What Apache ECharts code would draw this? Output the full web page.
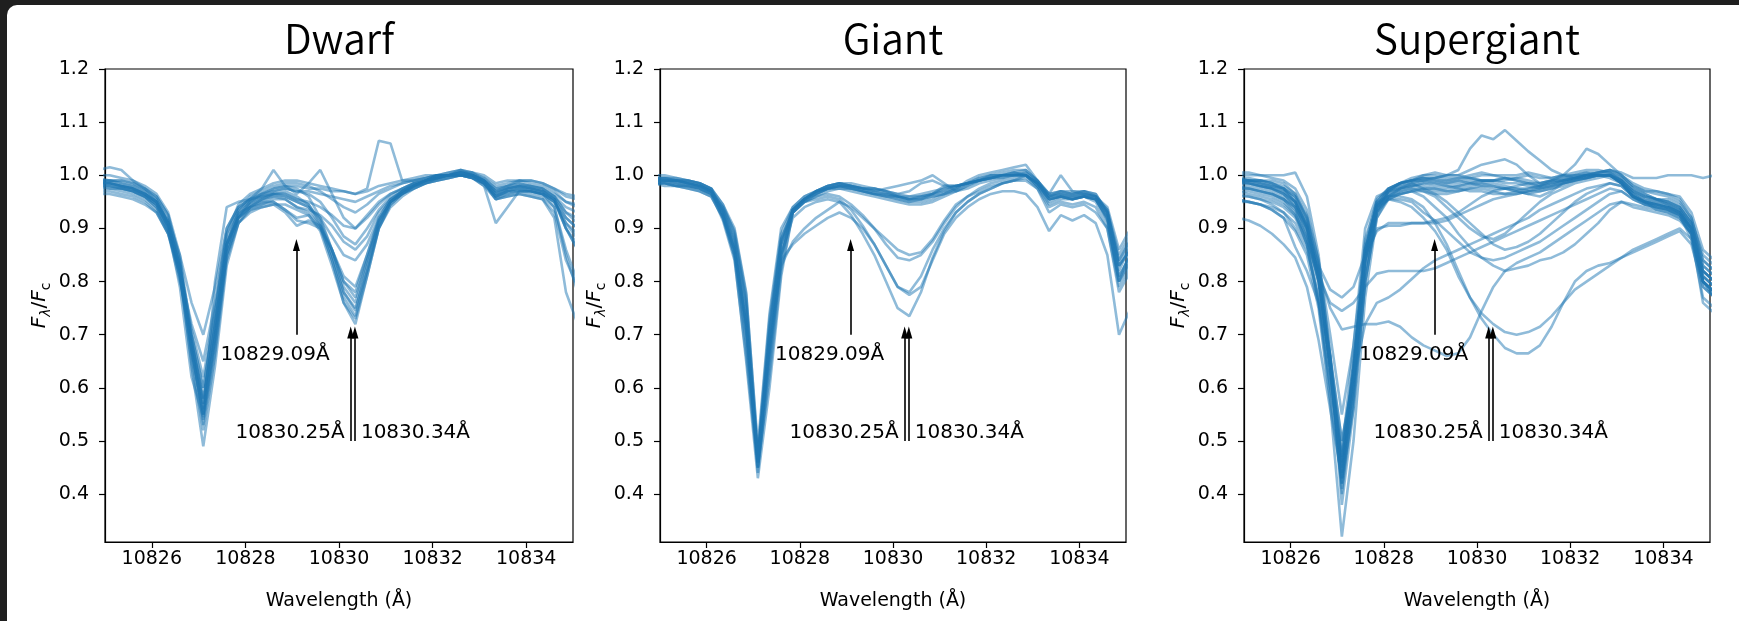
<!DOCTYPE html>
<html>
<head>
<meta charset="utf-8">
<title>He I 10830 spectra</title>
<script src="https://cdn.jsdelivr.net/npm/echarts@6/dist/echarts.min.js"></script>
<style>
  html, body { margin: 0; padding: 0; width: 1739px; height: 621px; overflow: hidden; background: #1f1f1f; }
  #card { position: absolute; left: 7px; top: 5px; width: 1760px; height: 660px; background: #fff; border-radius: 10px; }
  #main { position: absolute; left: 0; top: 0; width: 1739px; height: 621px; }
</style>
</head>
<body>
<div id="card"></div>
<div id="main"></div>
<script>
// wavelength grid (Å), shared by every spectrum
var wavelength = [
  10824.85,10825.10,10825.35,10825.60,10825.85,10826.10,10826.35,10826.60,10826.85,10827.10,
  10827.35,10827.60,10827.85,10828.10,10828.35,10828.60,10828.85,10829.10,10829.35,10829.60,
  10829.85,10830.10,10830.35,10830.60,10830.85,10831.10,10831.35,10831.60,10831.85,10832.10,
  10832.35,10832.60,10832.85,10833.10,10833.35,10833.60,10833.85,10834.10,10834.35,10834.60,
  10834.85,10835.10
];

// normalised flux F_lambda / F_c, one row per star
var dwarf = [
  [0.99,0.99,0.985,0.98,0.97,0.955,0.915,0.83,0.67,0.55,
   0.69,0.86,0.925,0.945,0.955,0.965,0.97,0.96,0.945,0.91,
   0.85,0.78,0.745,0.83,0.91,0.95,0.965,0.98,0.99,0.995,
   1.0,1.005,1.0,0.99,0.965,0.975,0.98,0.975,0.97,0.955,
   0.9,0.86],
  [0.985,0.985,0.98,0.975,0.965,0.945,0.9,0.81,0.65,0.52,
   0.66,0.84,0.91,0.935,0.945,0.95,0.935,0.92,0.925,0.9,
   0.84,0.76,0.72,0.81,0.9,0.945,0.965,0.975,0.985,0.99,
   0.995,1.0,0.995,0.985,0.96,0.97,0.975,0.97,0.965,0.94,
   0.86,0.8],
  [0.98,0.98,0.975,0.97,0.96,0.94,0.9,0.82,0.69,0.57,
   0.72,0.87,0.92,0.935,0.94,0.945,0.93,0.905,0.915,0.905,
   0.86,0.79,0.76,0.84,0.915,0.95,0.97,0.98,0.99,0.995,
   1.0,1.01,1.0,0.99,0.96,0.97,0.97,0.97,0.965,0.95,
   0.91,0.88],
  [0.975,0.975,0.97,0.965,0.955,0.935,0.89,0.8,0.7,0.6,
   0.74,0.88,0.93,0.94,0.95,0.95,0.935,0.915,0.91,0.9,
   0.86,0.8,0.78,0.85,0.92,0.955,0.97,0.98,0.99,1.0,
   1.0,1.005,1.0,0.985,0.96,0.965,0.97,0.97,0.965,0.955,
   0.92,0.9],
  [0.99,0.99,0.99,0.985,0.975,0.96,0.925,0.84,0.68,0.54,
   0.68,0.85,0.92,0.95,0.965,0.975,0.98,0.975,0.96,0.92,
   0.86,0.8,0.77,0.84,0.91,0.95,0.97,0.985,0.99,1.0,
   1.0,1.005,1.005,0.99,0.97,0.98,0.985,0.98,0.975,0.96,
   0.93,0.91],
  [0.99,0.985,0.98,0.975,0.965,0.95,0.91,0.82,0.64,0.49,
   0.64,0.83,0.91,0.94,0.95,0.96,0.955,0.94,0.93,0.905,
   0.85,0.78,0.75,0.82,0.9,0.945,0.965,0.98,0.99,0.995,
   1.0,1.0,0.995,0.985,0.955,0.965,0.97,0.965,0.96,0.94,
   0.85,0.78],
  [0.985,0.985,0.98,0.975,0.965,0.95,0.91,0.83,0.68,0.56,
   0.7,0.86,0.925,0.95,0.96,0.97,0.975,0.97,0.965,0.95,
   0.92,0.885,0.87,0.9,0.935,0.96,0.975,0.985,0.99,1.0,
   1.0,1.0,1.0,0.99,0.97,0.975,0.98,0.98,0.975,0.96,
   0.93,0.92],
  [0.98,0.98,0.975,0.97,0.96,0.94,0.895,0.81,0.68,0.58,
   0.72,0.87,0.92,0.94,0.945,0.955,0.955,0.94,0.935,0.925,
   0.905,0.875,0.86,0.885,0.93,0.955,0.97,0.98,0.985,0.995,
   1.0,1.005,1.0,0.985,0.965,0.97,0.975,0.975,0.97,0.955,
   0.9,0.87],
  [0.98,0.975,0.975,0.97,0.96,0.945,0.905,0.83,0.71,0.62,
   0.75,0.89,0.935,0.95,0.96,0.965,0.965,0.955,0.95,0.94,
   0.925,0.905,0.9,0.92,0.945,0.965,0.975,0.985,0.99,0.995,
   1.0,1.0,1.0,0.99,0.97,0.975,0.98,0.975,0.97,0.96,
   0.94,0.93],
  [0.995,0.99,0.99,0.985,0.975,0.96,0.925,0.84,0.69,0.58,
   0.71,0.87,0.935,0.96,0.97,0.98,0.985,0.985,0.98,0.97,
   0.955,0.94,0.93,0.945,0.965,0.975,0.985,0.99,0.995,1.0,
   1.005,1.01,1.005,0.995,0.975,0.98,0.99,0.985,0.98,0.97,
   0.95,0.94],
  [0.97,0.97,0.965,0.96,0.95,0.93,0.89,0.82,0.72,0.65,
   0.76,0.9,0.94,0.955,0.965,0.97,0.975,0.97,0.97,0.965,
   0.96,0.955,0.95,0.96,0.97,0.98,0.985,0.99,0.995,1.0,
   1.0,1.0,1.0,0.99,0.975,0.98,0.985,0.98,0.975,0.965,
   0.95,0.945],
  [0.985,0.985,0.98,0.975,0.965,0.95,0.915,0.85,0.76,0.7,
   0.79,0.9,0.94,0.955,0.965,0.975,0.98,0.98,0.975,0.975,
   0.97,0.97,0.965,0.975,1.065,1.06,0.99,0.99,0.995,1.0,
   1.0,1.005,1.0,0.995,0.98,0.985,0.99,0.99,0.985,0.975,
   0.96,0.955],
  [0.985,0.98,0.975,0.97,0.96,0.945,0.905,0.82,0.67,0.55,
   0.7,0.87,0.93,0.955,0.975,1.01,0.98,0.965,0.985,1.01,
   0.965,0.92,0.9,0.925,0.95,0.965,0.975,0.985,0.99,0.995,
   1.0,1.005,1.0,0.985,0.96,0.97,0.975,0.97,0.965,0.95,
   0.91,0.89],
  [1.01,1.015,1.01,0.99,0.975,0.955,0.91,0.82,0.66,0.53,
   0.67,0.85,0.92,0.945,0.955,0.96,0.96,0.95,0.94,0.905,
   0.84,0.77,0.735,0.82,0.905,0.95,0.965,0.98,0.99,0.995,
   1.0,1.0,0.995,0.985,0.955,0.96,0.965,0.96,0.955,0.92,
   0.78,0.72],
  [0.985,0.985,0.98,0.975,0.965,0.95,0.91,0.83,0.69,0.57,
   0.72,0.87,0.92,0.94,0.955,0.965,0.965,0.955,0.945,0.915,
   0.86,0.81,0.79,0.85,0.915,0.95,0.965,0.975,0.985,0.99,
   0.995,1.0,0.995,0.98,0.91,0.94,0.97,0.97,0.965,0.95,
   0.9,0.86],
  [1.0,1.0,0.995,0.99,0.98,0.965,0.93,0.85,0.7,0.6,
   0.74,0.89,0.945,0.965,0.975,0.985,0.99,0.99,0.985,0.98,
   0.975,0.97,0.965,0.97,0.98,0.985,0.99,0.995,1.0,1.0,
   1.005,1.01,1.005,1.0,0.985,0.99,0.99,0.99,0.985,0.975,
   0.965,0.96],
  [0.965,0.965,0.96,0.955,0.945,0.93,0.89,0.81,0.67,0.55,
   0.69,0.85,0.91,0.93,0.94,0.945,0.945,0.935,0.925,0.895,
   0.83,0.76,0.73,0.81,0.9,0.94,0.96,0.975,0.985,0.99,
   0.995,1.0,0.995,0.98,0.955,0.96,0.965,0.96,0.955,0.93,
   0.84,0.79],
  [0.99,0.99,0.985,0.98,0.97,0.95,0.9,0.79,0.62,0.545,
   0.8,0.94,0.95,0.955,0.96,0.965,0.96,0.95,0.94,0.92,
   0.885,0.85,0.84,0.87,0.92,0.955,0.97,0.98,0.99,0.995,
   1.0,1.0,1.0,0.99,0.965,0.975,0.98,0.975,0.97,0.955,
   0.92,0.9]
];

var giant = [
  [0.995,0.995,0.99,0.99,0.985,0.975,0.935,0.87,0.72,0.46,
   0.68,0.86,0.935,0.955,0.97,0.98,0.985,0.98,0.975,0.97,
   0.965,0.96,0.955,0.96,0.965,0.97,0.975,0.985,0.99,0.995,
   1.0,1.0,1.005,0.985,0.96,0.965,0.96,0.965,0.96,0.925,
   0.82,0.87],
  [0.985,0.985,0.985,0.98,0.975,0.965,0.915,0.84,0.66,0.45,
   0.62,0.82,0.93,0.95,0.96,0.97,0.975,0.975,0.97,0.965,
   0.96,0.955,0.95,0.955,0.96,0.965,0.97,0.98,0.99,0.995,
   0.995,1.0,1.0,0.98,0.955,0.96,0.955,0.96,0.955,0.915,
   0.8,0.86],
  [0.995,0.995,0.995,0.99,0.985,0.975,0.945,0.9,0.78,0.48,
   0.73,0.89,0.94,0.96,0.97,0.98,0.985,0.985,0.98,0.975,
   0.97,0.965,0.97,0.985,0.99,0.98,0.98,0.985,0.995,1.0,
   1.005,1.01,1.01,0.99,0.965,0.97,0.965,0.97,0.965,0.93,
   0.84,0.88],
  [0.99,0.99,0.99,0.985,0.98,0.97,0.92,0.845,0.65,0.43,
   0.6,0.81,0.93,0.955,0.965,0.975,0.98,0.975,0.97,0.965,
   0.96,0.955,0.95,0.95,0.955,0.965,0.975,0.985,0.99,0.995,
   1.0,1.005,1.0,0.985,0.955,0.96,0.955,0.96,0.955,0.92,
   0.81,0.85],
  [1.0,1.0,0.995,0.99,0.985,0.975,0.945,0.89,0.765,0.47,
   0.72,0.88,0.935,0.955,0.97,0.975,0.98,0.98,0.975,0.975,
   0.97,0.965,0.96,0.965,0.97,0.975,0.98,0.985,0.99,1.0,
   1.0,1.005,1.0,0.98,0.945,0.955,0.955,0.96,0.955,0.93,
   0.83,0.87],
  [0.99,0.99,0.99,0.985,0.98,0.97,0.93,0.86,0.7,0.46,
   0.7,0.875,0.935,0.955,0.965,0.975,0.98,0.975,0.97,0.965,
   0.96,0.96,0.955,0.955,0.96,0.965,0.975,0.99,1.0,1.005,
   1.01,1.015,1.02,0.99,0.96,0.97,0.965,0.97,0.96,0.935,
   0.85,0.89],
  [0.995,0.99,0.99,0.985,0.98,0.97,0.935,0.875,0.74,0.45,
   0.64,0.84,0.935,0.955,0.97,0.98,0.985,0.98,0.975,0.97,
   0.975,0.98,0.985,0.99,1.0,0.985,0.97,0.975,0.985,0.99,
   0.995,1.0,1.0,0.985,0.955,0.96,0.96,0.96,0.955,0.92,
   0.8,0.84],
  [0.985,0.985,0.98,0.98,0.975,0.965,0.94,0.895,0.775,0.49,
   0.74,0.9,0.94,0.96,0.97,0.975,0.975,0.97,0.965,0.96,
   0.955,0.95,0.945,0.945,0.95,0.96,0.97,0.98,0.99,0.995,
   1.0,1.0,1.0,0.985,0.96,0.965,0.96,0.965,0.96,0.94,
   0.86,0.9],
  [0.995,0.995,0.99,0.99,0.985,0.975,0.925,0.85,0.68,0.44,
   0.65,0.845,0.935,0.955,0.97,0.98,0.985,0.98,0.975,0.97,
   0.965,0.96,0.96,0.96,0.965,0.97,0.98,0.985,0.995,1.0,
   1.0,1.005,1.01,0.99,0.965,0.97,0.97,0.97,0.965,0.93,
   0.83,0.86],
  [0.99,0.99,0.99,0.985,0.98,0.97,0.925,0.86,0.72,0.47,
   0.71,0.88,0.93,0.95,0.965,0.975,0.98,0.975,0.97,0.965,
   0.965,0.96,0.955,0.96,0.965,0.975,0.98,0.985,0.99,0.995,
   1.0,1.0,1.0,0.985,0.965,1.0,0.97,0.965,0.96,0.93,
   0.84,0.88],
  [0.985,0.985,0.98,0.98,0.975,0.965,0.925,0.86,0.71,0.45,
   0.67,0.85,0.92,0.94,0.95,0.955,0.95,0.925,0.89,0.85,
   0.8,0.75,0.735,0.78,0.845,0.895,0.93,0.95,0.965,0.975,
   0.985,0.99,0.995,0.975,0.94,0.95,0.945,0.95,0.94,0.9,
   0.78,0.82],
  [0.99,0.99,0.985,0.98,0.975,0.965,0.935,0.88,0.75,0.46,
   0.69,0.87,0.93,0.95,0.955,0.96,0.955,0.935,0.905,0.87,
   0.83,0.79,0.78,0.81,0.86,0.9,0.93,0.95,0.965,0.975,
   0.985,0.99,1.0,0.98,0.95,0.96,0.955,0.96,0.95,0.91,
   0.8,0.84],
  [0.985,0.98,0.98,0.975,0.97,0.96,0.92,0.86,0.72,0.47,
   0.68,0.84,0.87,0.89,0.905,0.92,0.93,0.92,0.9,0.87,
   0.83,0.79,0.775,0.79,0.84,0.89,0.92,0.94,0.955,0.965,
   0.97,0.97,0.965,0.94,0.895,0.925,0.915,0.925,0.91,0.85,
   0.7,0.75],
  [0.99,0.99,0.985,0.985,0.98,0.97,0.93,0.865,0.72,0.46,
   0.66,0.85,0.93,0.95,0.96,0.965,0.96,0.945,0.925,0.9,
   0.87,0.845,0.84,0.85,0.875,0.91,0.94,0.96,0.975,0.985,
   0.99,0.995,1.0,0.985,0.955,0.96,0.955,0.96,0.955,0.92,
   0.81,0.85],
  [0.985,0.985,0.98,0.975,0.97,0.96,0.92,0.85,0.7,0.47,
   0.67,0.83,0.875,0.9,0.92,0.935,0.95,0.94,0.92,0.9,
   0.88,0.86,0.85,0.855,0.88,0.915,0.945,0.96,0.97,0.98,
   0.985,0.99,0.99,0.975,0.93,0.945,0.94,0.945,0.93,0.9,
   0.79,0.83],
  [0.995,0.995,0.99,0.985,0.98,0.97,0.94,0.885,0.755,0.46,
   0.7,0.87,0.935,0.955,0.965,0.975,0.98,0.98,0.975,0.975,
   0.97,0.96,0.955,0.955,0.965,0.98,0.98,0.985,0.99,0.995,
   1.0,1.0,1.005,0.99,0.96,0.965,0.965,0.965,0.96,0.935,
   0.83,0.86]
];

var supergiant = [
  [0.99,0.99,0.985,0.98,0.975,0.955,0.91,0.81,0.64,0.44,
   0.62,0.85,0.95,0.975,0.985,0.99,0.995,0.99,0.99,0.995,
   0.995,0.99,0.99,0.995,0.995,0.99,0.985,0.99,0.995,1.0,
   1.0,1.005,1.005,0.995,0.975,0.965,0.955,0.945,0.935,0.9,
   0.8,0.78],
  [1.0,1.0,1.0,0.995,0.99,0.975,0.935,0.84,0.66,0.4,
   0.58,0.82,0.94,0.975,0.985,0.99,0.995,0.995,1.0,1.0,
   0.995,0.99,0.99,0.99,0.995,1.0,0.995,0.995,1.0,1.005,
   1.01,1.01,1.005,0.995,0.975,0.965,0.955,0.95,0.94,0.91,
   0.82,0.8],
  [0.985,0.985,0.98,0.975,0.965,0.94,0.88,0.77,0.6,0.42,
   0.58,0.8,0.93,0.97,0.98,0.985,0.99,0.985,0.985,0.99,
   0.985,0.98,0.975,0.975,0.97,0.965,0.96,0.97,0.985,0.995,
   1.0,1.0,1.0,0.985,0.96,0.945,0.94,0.935,0.925,0.88,
   0.77,0.75],
  [0.975,0.975,0.97,0.965,0.955,0.94,0.895,0.8,0.64,0.46,
   0.64,0.86,0.945,0.965,0.975,0.98,0.98,0.975,0.975,0.98,
   0.985,0.985,0.98,0.975,0.975,0.97,0.97,0.975,0.98,0.99,
   0.995,1.0,0.995,0.985,0.965,0.95,0.935,0.93,0.92,0.89,
   0.79,0.77],
  [1.005,1.005,1.0,1.0,1.0,1.005,0.96,0.85,0.66,0.38,
   0.56,0.8,0.93,0.97,0.985,0.995,1.0,1.0,0.995,0.995,
   1.0,1.005,1.0,0.995,0.99,0.985,0.98,0.985,0.99,0.995,
   1.0,1.005,1.01,1.0,0.98,0.97,0.97,0.965,0.955,0.92,
   0.84,0.82],
  [0.97,0.97,0.965,0.96,0.95,0.925,0.87,0.76,0.6,0.48,
   0.68,0.9,0.96,0.97,0.975,0.98,0.985,0.98,0.98,0.975,
   0.97,0.97,0.965,0.965,0.97,0.975,0.98,0.985,0.99,0.995,
   1.0,1.0,1.0,0.985,0.96,0.95,0.945,0.94,0.93,0.9,
   0.81,0.79],
  [0.995,0.995,0.99,0.99,0.985,0.965,0.92,0.82,0.64,0.41,
   0.6,0.84,0.95,0.975,0.985,0.99,0.995,0.995,0.99,0.99,
   0.995,1.0,1.0,1.0,1.0,1.005,1.0,0.995,1.0,1.0,
   1.005,1.005,1.01,1.005,0.995,0.995,0.995,1.0,1.0,1.0,
   0.995,1.0],
  [0.965,0.96,0.955,0.945,0.93,0.9,0.86,0.77,0.62,0.45,
   0.6,0.82,0.93,0.96,0.97,0.975,0.975,0.97,0.97,0.975,
   0.98,0.985,0.985,0.98,0.975,0.975,0.98,0.985,0.99,0.995,
   0.995,1.0,1.005,0.99,0.97,0.96,0.955,0.95,0.94,0.91,
   0.83,0.81],
  [0.955,0.95,0.945,0.935,0.92,0.895,0.85,0.75,0.57,0.32,
   0.5,0.77,0.92,0.96,0.975,0.98,0.985,0.985,0.98,0.98,
   0.985,0.99,0.99,0.985,0.985,0.98,0.975,0.98,0.99,0.995,
   1.0,1.0,1.0,0.985,0.96,0.95,0.94,0.935,0.925,0.89,
   0.76,0.74],
  [0.99,0.99,0.99,0.985,0.98,0.965,0.925,0.84,0.7,0.55,
   0.68,0.87,0.955,0.975,0.985,0.99,0.99,0.99,0.985,0.985,
   0.99,0.99,0.99,0.995,0.99,0.985,0.98,0.99,0.995,1.0,
   1.005,1.0,1.0,0.99,0.97,0.96,0.955,0.955,0.945,0.915,
   0.85,0.83],
  [0.99,0.99,0.985,0.98,0.975,0.95,0.9,0.83,0.785,0.77,
   0.79,0.85,0.895,0.91,0.91,0.91,0.91,0.91,0.915,0.925,
   0.935,0.945,0.955,0.96,0.965,0.97,0.975,0.98,0.985,0.99,
   0.995,1.0,1.0,0.985,0.96,0.95,0.945,0.94,0.93,0.9,
   0.81,0.79],
  [0.95,0.95,0.945,0.94,0.93,0.91,0.87,0.81,0.76,0.745,
   0.76,0.79,0.815,0.82,0.82,0.82,0.82,0.825,0.835,0.845,
   0.855,0.865,0.875,0.885,0.895,0.905,0.915,0.925,0.935,0.945,
   0.955,0.965,0.975,0.97,0.955,0.945,0.94,0.935,0.925,0.9,
   0.82,0.8],
  [0.96,0.96,0.955,0.95,0.94,0.92,0.88,0.82,0.75,0.71,
   0.715,0.72,0.72,0.725,0.715,0.695,0.68,0.67,0.66,0.665,
   0.695,0.745,0.79,0.82,0.835,0.845,0.855,0.87,0.885,0.9,
   0.915,0.93,0.945,0.95,0.94,0.935,0.93,0.925,0.915,0.89,
   0.8,0.78],
  [0.98,0.98,0.975,0.97,0.96,0.94,0.9,0.81,0.65,0.47,
   0.63,0.85,0.94,0.965,0.975,0.985,0.99,0.995,1.0,1.01,
   1.05,1.075,1.068,1.085,1.065,1.045,1.028,1.01,1.0,0.995,
   1.0,1.0,1.0,0.99,0.97,0.96,0.955,0.95,0.94,0.91,
   0.83,0.81],
  [0.985,0.985,0.98,0.975,0.965,0.945,0.9,0.8,0.63,0.43,
   0.61,0.84,0.935,0.955,0.95,0.94,0.92,0.895,0.86,0.81,
   0.77,0.74,0.72,0.705,0.7,0.705,0.715,0.735,0.76,0.785,
   0.8,0.815,0.83,0.845,0.855,0.865,0.875,0.885,0.895,0.87,
   0.79,0.77],
  [0.99,0.99,0.985,0.98,0.97,0.95,0.905,0.81,0.64,0.45,
   0.63,0.86,0.945,0.96,0.96,0.955,0.94,0.91,0.87,0.82,
   0.77,0.73,0.7,0.675,0.665,0.665,0.68,0.715,0.76,0.8,
   0.82,0.83,0.835,0.845,0.86,0.87,0.88,0.89,0.9,0.88,
   0.8,0.78],
  [0.98,0.975,0.97,0.965,0.955,0.93,0.87,0.76,0.58,0.42,
   0.64,0.88,0.95,0.96,0.965,0.97,0.96,0.94,0.92,0.89,
   0.865,0.845,0.83,0.82,0.825,0.83,0.84,0.845,0.855,0.87,
   0.89,0.91,0.935,0.95,0.945,0.94,0.935,0.93,0.92,0.89,
   0.8,0.78],
  [0.99,0.985,0.98,0.975,0.965,0.95,0.905,0.81,0.64,0.44,
   0.62,0.85,0.94,0.955,0.955,0.95,0.93,0.915,0.895,0.875,
   0.855,0.845,0.84,0.845,0.855,0.865,0.875,0.89,0.905,0.92,
   0.935,0.95,0.965,0.97,0.955,0.945,0.94,0.935,0.925,0.895,
   0.81,0.79],
  [0.995,0.99,0.99,0.985,0.975,0.96,0.915,0.82,0.65,0.45,
   0.63,0.86,0.945,0.97,0.98,0.985,0.975,0.965,0.95,0.93,
   0.91,0.89,0.87,0.86,0.865,0.875,0.89,0.91,0.93,0.95,
   0.965,0.975,0.985,0.98,0.96,0.95,0.945,0.94,0.93,0.9,
   0.82,0.8],
  [0.975,0.975,0.97,0.965,0.955,0.935,0.89,0.8,0.64,0.46,
   0.64,0.86,0.94,0.96,0.97,0.975,0.97,0.96,0.94,0.92,
   0.9,0.885,0.88,0.89,0.91,0.93,0.95,0.965,0.975,0.985,
   0.99,0.995,1.0,0.985,0.96,0.95,0.945,0.94,0.93,0.895,
   0.8,0.78],
  [0.97,0.965,0.96,0.955,0.945,0.925,0.885,0.8,0.66,0.5,
   0.62,0.72,0.76,0.77,0.785,0.805,0.825,0.84,0.85,0.86,
   0.87,0.88,0.89,0.9,0.91,0.92,0.935,0.945,0.955,0.965,
   0.975,0.98,0.985,0.98,0.96,0.95,0.945,0.94,0.93,0.9,
   0.8,0.77],
  [0.995,0.99,0.99,0.985,0.975,0.96,0.92,0.83,0.66,0.47,
   0.65,0.84,0.9,0.905,0.905,0.91,0.91,0.915,0.92,0.93,
   0.945,0.96,0.97,0.975,0.98,0.985,0.985,0.99,0.99,0.995,
   1.0,1.005,1.01,1.0,0.98,0.97,0.965,0.96,0.95,0.92,
   0.84,0.82],
  [0.985,0.985,0.98,0.975,0.97,0.95,0.905,0.81,0.64,0.43,
   0.61,0.84,0.94,0.97,0.985,0.99,1.0,1.005,1.0,1.0,
   1.01,1.02,1.025,1.03,1.02,1.0,0.985,0.99,1.0,1.02,
   1.05,1.04,1.02,1.0,0.985,0.975,0.97,0.965,0.96,0.93,
   0.86,0.84],
  [0.92,0.915,0.905,0.89,0.87,0.845,0.79,0.69,0.56,0.43,
   0.56,0.8,0.92,0.955,0.965,0.97,0.975,0.975,0.97,0.97,
   0.975,0.98,0.98,0.975,0.97,0.965,0.97,0.975,0.985,0.99,
   0.995,1.0,1.0,0.99,0.965,0.955,0.95,0.945,0.935,0.905,
   0.82,0.8],
  [0.955,0.95,0.945,0.935,0.92,0.865,0.82,0.76,0.66,0.5,
   0.62,0.84,0.93,0.955,0.965,0.97,0.97,0.965,0.965,0.97,
   0.975,0.975,0.97,0.965,0.965,0.97,0.975,0.98,0.985,0.99,
   0.995,1.0,1.0,0.99,0.965,0.955,0.95,0.945,0.935,0.9,
   0.8,0.77]
];

var titles = ['Dwarf', 'Giant', 'Supergiant'];
var xTicks = [10826, 10828, 10830, 10832, 10834];
var yTicks = [0.4, 0.5, 0.6, 0.7, 0.8, 0.9, 1.0, 1.1, 1.2];

// marked lines: He I 10829.09 and the 10830.25 / 10830.34 pair
var singleLine = 10829.09;
var pairLines = [10830.25, 10830.34];

var chart = echarts.init(document.getElementById('main'), null, { renderer: 'canvas' });

var panels = [
  { left: 105,  width: 468, spectra: dwarf },
  { left: 660,  width: 466, spectra: giant },
  { left: 1244, width: 466, spectra: supergiant }
];

var font = 'DejaVu Sans';
var grids = [], xAxes = [], yAxes = [], series = [], graphics = [];

panels.forEach(function (p, i) {
  grids.push({
    left: p.left, top: 69, width: p.width, height: 473,
    show: true, borderColor: '#000', borderWidth: 1.2, backgroundColor: 'transparent'
  });

  xAxes.push({
    gridIndex: i, type: 'value', min: 10825, max: 10835,
    axisLine: { show: true, onZero: false, lineStyle: { color: '#000', width: 1.2 } },
    axisTick: { show: true, length: 6, customValues: xTicks, lineStyle: { color: '#000', width: 1.2 } },
    axisLabel: {
      customValues: xTicks, color: '#000', fontFamily: font, fontSize: 19, margin: 8,
      formatter: function (v) { return String(v); }
    },
    splitLine: { show: false },
    name: 'Wavelength (Å)', nameLocation: 'middle', nameGap: 50,
    nameTextStyle: { color: '#000', fontFamily: font, fontSize: 19 }
  });

  yAxes.push({
    gridIndex: i, type: 'value', min: 0.31, max: 1.2,
    axisLine: { show: true, onZero: false, lineStyle: { color: '#000', width: 1.2 } },
    axisTick: { show: true, length: 6, customValues: yTicks, lineStyle: { color: '#000', width: 1.2 } },
    axisLabel: {
      customValues: yTicks, color: '#000', fontFamily: font, fontSize: 19, margin: 16,
      formatter: function (v) { return v.toFixed(1); }
    },
    splitLine: { show: false },
    name: '{f|F}{l|λ}{d|/}{f|F}{c|c}', nameLocation: 'middle', nameRotate: 90, nameGap: 52,
    nameTextStyle: {
      rich: {
        f: { fontFamily: font, fontStyle: 'italic', fontSize: 20, color: '#000', lineHeight: 26 },
        d: { fontFamily: font, fontSize: 20, color: '#000', lineHeight: 26 },
        l: { fontFamily: font, fontStyle: 'italic', fontSize: 14, color: '#000', lineHeight: 14, verticalAlign: 'bottom' },
        c: { fontFamily: font, fontSize: 14, color: '#000', lineHeight: 14, verticalAlign: 'bottom' }
      }
    }
  });

  // spectra
  p.spectra.forEach(function (vals) {
    series.push({
      type: 'line', xAxisIndex: i, yAxisIndex: i,
      data: wavelength.map(function (w, k) { return [w, vals[k]]; }),
      showSymbol: false, symbol: 'none', silent: true, clip: true,
      lineStyle: { color: '#1f77b4', width: 2.6, opacity: 0.5 },
      z: 2
    });
  });

  // arrows and their labels
  series.push({
    type: 'scatter', xAxisIndex: i, yAxisIndex: i, symbolSize: 0, silent: true, z: 5,
    data: [
      { value: [singleLine - 1.62, 0.663], name: singleLine.toFixed(2) + 'Å', label: { align: 'left' } },
      { value: [pairLines[0], 0.515], name: pairLines[0].toFixed(2) + 'Å', label: { align: 'right', offset: [-6, 0] } },
      { value: [pairLines[1], 0.515], name: pairLines[1].toFixed(2) + 'Å', label: { align: 'left', offset: [6, 0] } }
    ],
    label: {
      show: true, position: 'inside', formatter: '{b}', verticalAlign: 'middle',
      color: '#000', opacity: 1, textBorderWidth: 0, fontFamily: font, fontSize: 20
    },
    markLine: {
      silent: true, animation: false,
      symbol: ['none', 'triangle'], symbolSize: [7, 12],
      label: { show: false },
      lineStyle: { color: '#000', width: 1.6, type: 'solid' },
      data: [
        [{ coord: [singleLine, 0.70] }, { coord: [singleLine, 0.869] }],
        [{ coord: [pairLines[0], 0.50] }, { coord: [pairLines[0], 0.704] }],
        [{ coord: [pairLines[1], 0.50] }, { coord: [pairLines[1], 0.704] }]
      ]
    }
  });

  graphics.push({
    type: 'text', x: p.left + p.width / 2, y: 38.5,
    style: {
      text: titles[i], fill: '#000', fontSize: 40.5, fontWeight: 350, fontFamily: 'Noto Sans CJK SC',
      align: 'center', verticalAlign: 'middle'
    }
  });
});

chart.setOption({
  animation: false,
  backgroundColor: 'transparent',
  textStyle: { fontFamily: font },
  grid: grids,
  xAxis: xAxes,
  yAxis: yAxes,
  series: series,
  graphic: graphics
});
</script>
</body>
</html>
